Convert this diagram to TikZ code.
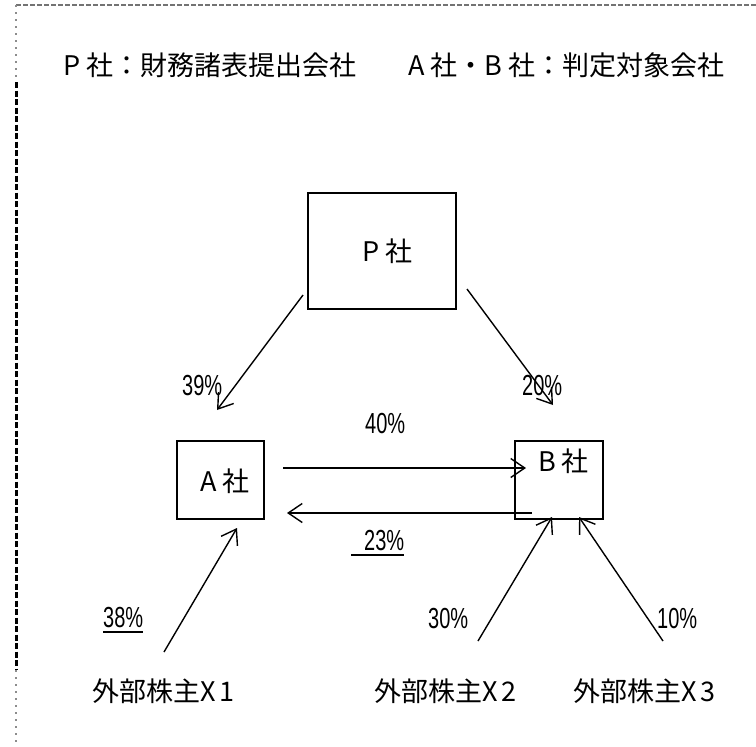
\documentclass[tikz,border=0pt]{standalone}
\usepackage{fontspec}
\setmainfont{Noto Sans CJK JP}
\newfontfamily\pctfont{Liberation Sans}
\usetikzlibrary{arrows.meta}
\begin{document}
\begin{tikzpicture}[x=1pt,y=-1pt,
  box/.style={draw, line width=2pt, inner sep=0pt, outer sep=0pt},
  lbl/.style={inner sep=0pt, anchor=base west, font=\fontsize{27}{30}\selectfont},
  pct/.style={inner sep=0pt, anchor=base west, font=\fontsize{29}{32}\pctfont},
  arr/.style={line width=1.4pt, -{Straight Barb[length=14pt,width=19pt,line width=1.4pt]}},
  uline/.style={line width=1.6pt},
]
\useasboundingbox (0,0) rectangle (756,747);
% frame
\draw[black!55, line width=1.2pt, dash pattern=on 5pt off 2pt] (16,5) -- (756,5);
\draw[black!45, line width=1.5pt, dash pattern=on 2pt off 5pt] (16,5) -- (16,82);
\draw[black, line width=3pt, dash pattern=on 6pt off 2.5pt] (16.5,82) -- (16.5,670);
\draw[black!45, line width=1.5pt, dash pattern=on 2pt off 5pt] (16,670) -- (16,747);
% title
\node[lbl] (t1) at (63,75) {P\hspace{6pt}社：財務諸表提出会社};
\node[lbl] (t2) at (408,75) {A\hspace{6pt}社・B\hspace{6pt}社：判定対象会社};
% boxes
\node[box, minimum width=148pt, minimum height=116pt] (P) at (382,251) {};
\node[box, minimum width=87pt, minimum height=78pt] (A) at (220.5,480) {};
\node[box, minimum width=88pt, minimum height=78pt] (B) at (559,480) {};
\node[lbl] (Pl) at (362,261) {P\hspace{6pt}社};
\node[lbl] (Al) at (200,491) {A\hspace{6pt}社};
\node[lbl] (Bl) at (538,471) {B\hspace{6pt}社};
% shareholders
\node[lbl] (X1) at (92,701) {外部株主X\hspace{4pt}1};
\node[lbl] (X2) at (374,701) {外部株主X\hspace{4pt}2};
\node[lbl] (X3) at (573,701) {外部株主X\hspace{4pt}3};
% arrow end points
\coordinate (pa0) at (303,295); \coordinate (pa1) at (217,410);
\coordinate (pb0) at (467,289); \coordinate (pb1) at (553,405);
\coordinate (ab0) at (283,468); \coordinate (ab1) at (526,468);
\coordinate (ba0) at (532,513); \coordinate (ba1) at (287,513);
\coordinate (x10) at (164,652); \coordinate (x11) at (237,528);
\coordinate (x20) at (478,641); \coordinate (x21) at (552,517);
\coordinate (x30) at (663,641); \coordinate (x31) at (579,517);
\draw[arr] (pa0) -- (pa1);
\draw[arr] (pb0) -- (pb1);
\draw[arr] (ab0) -- (ab1);
\draw[arr] (ba0) -- (ba1);
\draw[arr] (x10) -- (x11);
\draw[arr] (x20) -- (x21);
\draw[arr] (x30) -- (x31);
% percentages
\node[pct] (p39) at (182,395) {\scalebox{0.69}[1]{39\%}};
\node[pct] (p20) at (522,395) {\scalebox{0.69}[1]{20\%}};
\node[pct] (p40) at (365,433) {\scalebox{0.69}[1]{40\%}};
\node[pct] (p23) at (364,550) {\scalebox{0.69}[1]{23\%}};
\node[pct] (p38) at (103,627) {\scalebox{0.69}[1]{38\%}};
\node[pct] (p30) at (428,628) {\scalebox{0.69}[1]{30\%}};
\node[pct] (p10) at (657,628) {\scalebox{0.69}[1]{10\%}};
\draw[uline] ([xshift=-13pt,yshift=-5pt]p23.base west) -- ([yshift=-5pt]p23.base east);
\draw[uline] ([yshift=-5pt]p38.base west) -- ([yshift=-5pt]p38.base east);
\end{tikzpicture}
\end{document}
